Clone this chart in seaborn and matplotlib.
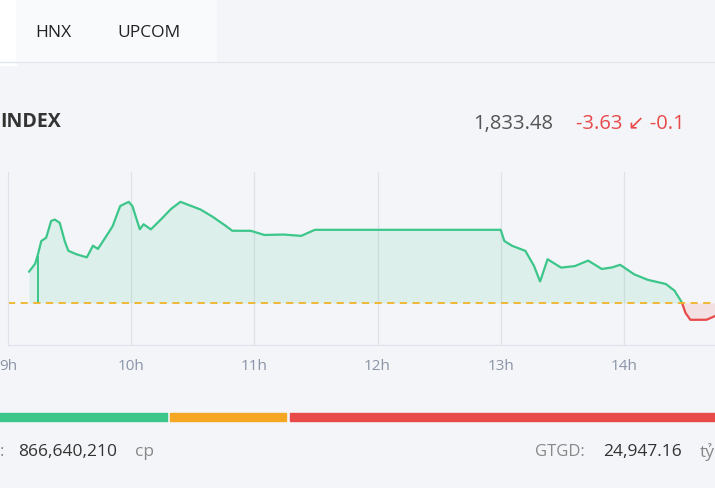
import matplotlib
matplotlib.use("Agg")
import matplotlib.pyplot as plt
import seaborn as sns
import numpy as np
import pandas as pd

# intraday VN-INDEX values (time in hours, index points)
times = [9.17, 9.22, 9.24, 9.27, 9.31, 9.35, 9.38, 9.42, 9.46, 9.49, 9.55, 9.64, 9.69, 9.73, 9.79,
         9.85, 9.91, 9.98, 10.01, 10.07, 10.10, 10.16, 10.23, 10.32, 10.40, 10.49, 10.56, 10.65,
         10.75, 10.82, 10.97, 11.08, 11.23, 11.38, 11.49, 13.00, 13.03, 13.09, 13.20, 13.27,
         13.32, 13.38, 13.49, 13.60, 13.71, 13.82, 13.90, 13.97, 14.08, 14.19, 14.34, 14.41,
         14.47, 14.50, 14.54, 14.67, 14.74]
prices = [1843.8, 1845.5, 1847.2, 1850.4, 1851.1, 1854.7, 1855.0, 1854.3, 1850.4, 1848.3, 1847.6,
          1846.9, 1849.4, 1848.7, 1851.1, 1853.6, 1857.9, 1858.8, 1857.9, 1852.9, 1854.0, 1852.9,
          1854.7, 1857.2, 1858.8, 1857.9, 1857.2, 1855.8, 1854.0, 1852.6, 1852.6, 1851.7, 1851.8,
          1851.5, 1852.8, 1852.8, 1850.4, 1849.4, 1848.3, 1845.1, 1841.7, 1846.5, 1844.7, 1845.0,
          1846.2, 1844.4, 1844.7, 1845.3, 1843.3, 1842.1, 1841.2, 1839.8, 1837.3, 1835.0, 1833.5,
          1833.5, 1834.3]
ref_price = 1837.11
hours = [9, 10, 11, 12, 13, 14]
hour_labels = ["9h", "10h", "11h", "12h", "13h", "14h"]

sns.set_style("white")
plt.rcParams['font.family'] = ['Open Sans', 'DejaVu Sans']

df = pd.DataFrame({"t": times, "p": prices})
BG = "#f4f5f9"
GREEN = "#3cc68a"
RED = "#e84a4a"

fig = plt.figure(figsize=(7.15, 4.88), dpi=100)
fig.patch.set_facecolor(BG)
ax = fig.add_axes([8 / 715, 1 - 345 / 488, 1 - 8 / 715, 173 / 488])
ax.set_facecolor(BG)

# split into above / below reference (interpolate crossing)
t = df["t"].to_numpy()
p = df["p"].to_numpy()
tt = np.linspace(t[0], t[-1], 3000)
pp = np.interp(tt, t, p)
ax.fill_between(tt, pp, ref_price, where=pp >= ref_price, color=GREEN, alpha=0.12, lw=0, interpolate=True)
ax.fill_between(tt, pp, ref_price, where=pp < ref_price, color=RED, alpha=0.12, lw=0, interpolate=True)
above = np.where(pp >= ref_price, pp, np.nan)
below = np.where(pp <= ref_price, pp, np.nan)
ax.plot(tt, above, color=GREEN, lw=1.6)
ax.plot(tt, below, color=RED, lw=1.6)
ax.vlines(times[2], ref_price, prices[2], color=GREEN, lw=1.4)
ax.axhline(ref_price, color="#f0b429", lw=1.3, ls=(0, (4, 3)))

ax.set_xlim(9, 14.74)
ax.set_ylim(1828.1, 1865.2)
ax.set_xticks(hours)
ax.set_xticklabels(hour_labels, color="#8a94a6", fontsize=11)
ax.tick_params(length=0, pad=10)
ax.set_yticks([])
for h in hours[1:]:
    ax.axvline(h, color="#dfe2e8", lw=0.9, zorder=0)
for s in ["top", "right"]:
    ax.spines[s].set_visible(False)
for s in ["left", "bottom"]:
    ax.spines[s].set_color("#dfe2e8")

# header and footer widgets
fig.patches.append(plt.Rectangle((0, 1 - 65 / 488), 16 / 715, 65 / 488, transform=fig.transFigure,
                                 color="white", zorder=0))
fig.patches.append(plt.Rectangle((16 / 715, 1 - 62 / 488), 200 / 715, 62 / 488, transform=fig.transFigure,
                                 color="#f9fafc", zorder=0))
fig.add_artist(plt.Line2D([0, 1], [1 - 62 / 488] * 2, color="#e2e6ee", lw=1))
fig.text(35 / 715, 1 - 33 / 488, "HNX", fontsize=12.5, va="center", color="#222")
fig.text(117 / 715, 1 - 33 / 488, "UPCOM", fontsize=12.5, va="center", color="#222")
fig.text(0, 1 - 122 / 488, "INDEX", fontsize=14, weight="bold", va="center", color="#333")
fig.text(553 / 715, 1 - 124 / 488, "1,833.48", fontsize=14.5, ha="right", va="center", color="#555")
fig.text(576 / 715, 1 - 124 / 488, "-3.63 ↙ -0.1", fontsize=14.5, va="center", color=RED)

for x0, x1, c in [(0, 167, GREEN), (170, 286, "#f5a623"), (290, 715, RED)]:
    fig.patches.append(plt.Rectangle((x0 / 715, 1 - 421 / 488), (x1 - x0) / 715, 8 / 488,
                                     transform=fig.transFigure, color=c))
fig.text(0, 1 - 452 / 488, ":", fontsize=12, va="center", color="#888")
fig.text(18 / 715, 1 - 452 / 488, "866,640,210", fontsize=12.5, va="center", color="#333")
fig.text(135 / 715, 1 - 452 / 488, "cp", fontsize=12.5, va="center", color="#888")
fig.text(535 / 715, 1 - 452 / 488, "GTGD:", fontsize=12, va="center", color="#888")
fig.text(603 / 715, 1 - 452 / 488, "24,947.16", fontsize=12.5, va="center", color="#333")
fig.text(700 / 715, 1 - 452 / 488, "tỷ", fontsize=12.5, va="center", color="#888")

fig.savefig("out.png", dpi=100, facecolor=BG)
